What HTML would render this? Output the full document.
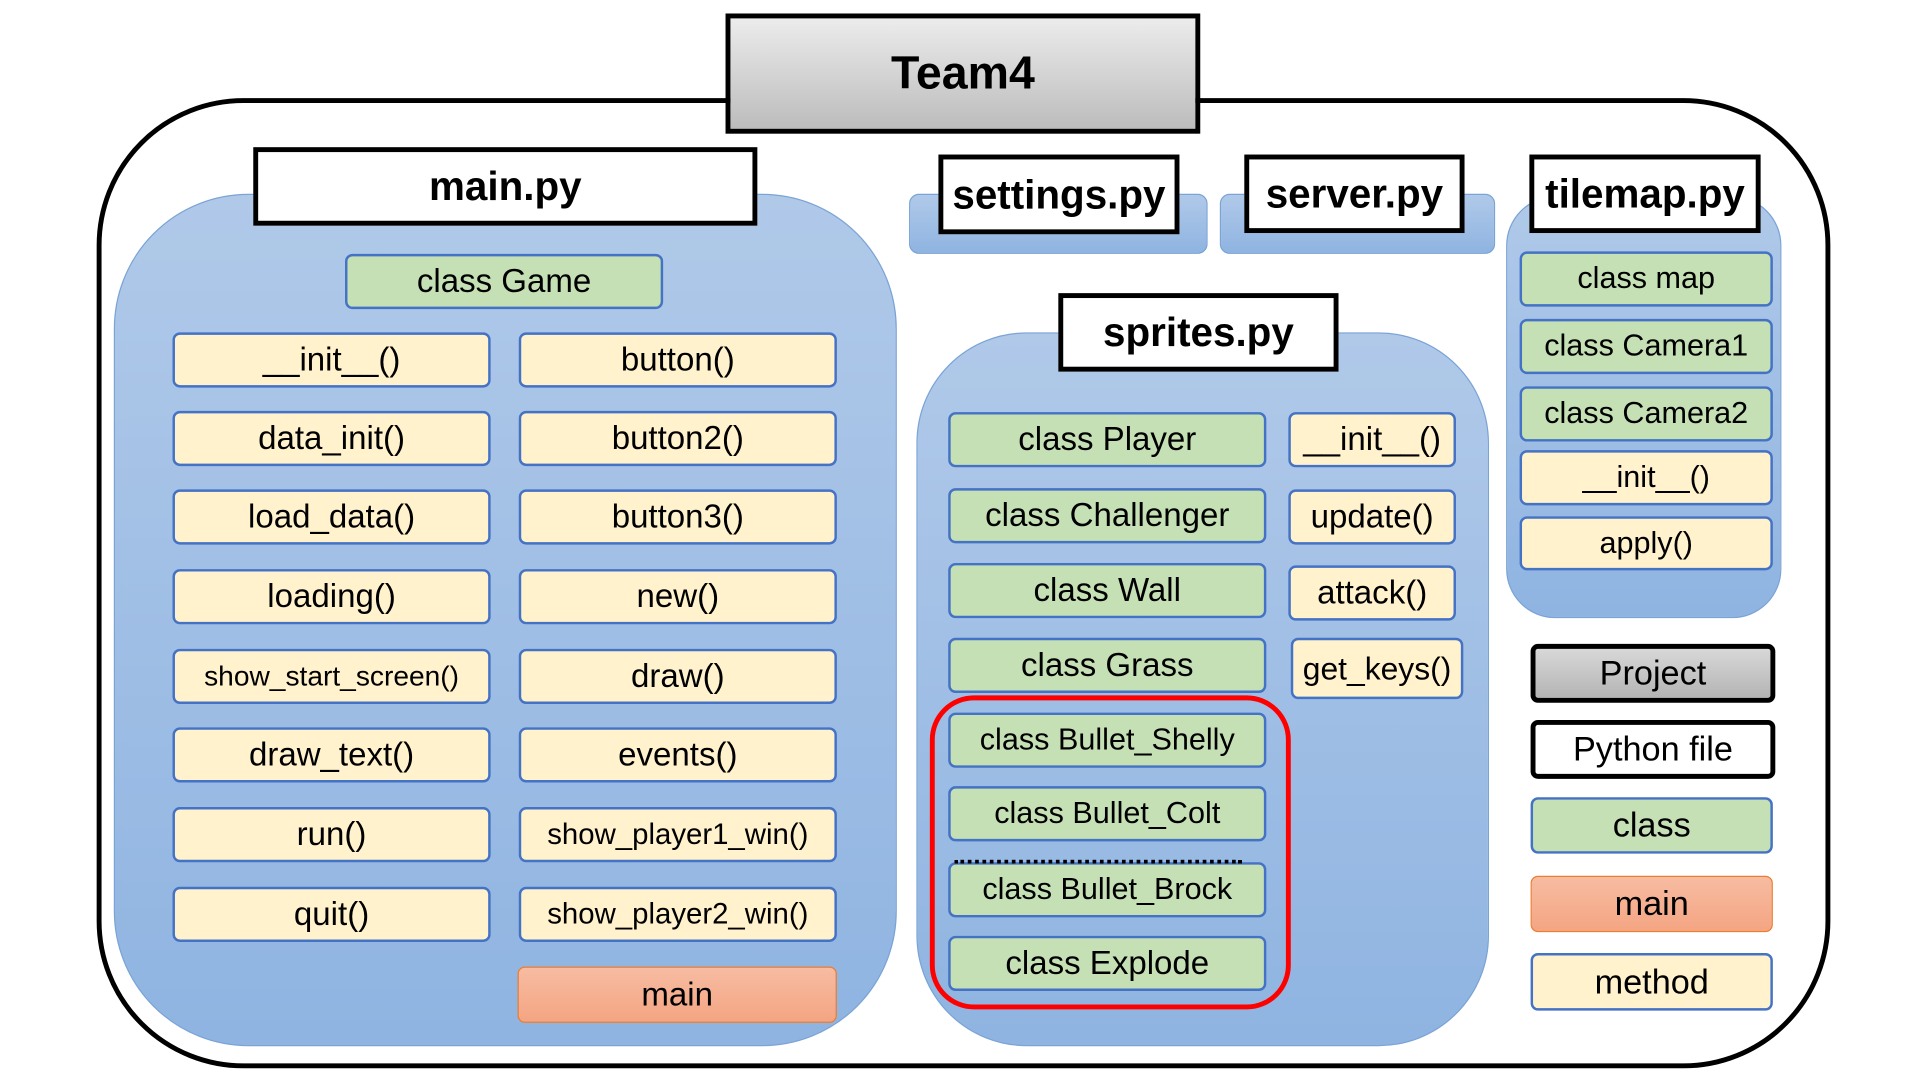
<!DOCTYPE html>
<html><head><meta charset="utf-8"><style>
html,body{margin:0;padding:0;width:1920px;height:1080px;overflow:hidden;background:#fff}
#s{position:absolute;left:0;top:0;width:1560px;height:878px;transform:scale(1.2235,1.2265);transform-origin:0 0;font-family:"Liberation Sans","DejaVu Sans",sans-serif}
.a{position:absolute;box-sizing:border-box;display:flex;align-items:center;justify-content:center;white-space:nowrap;color:#000}
.p{background:linear-gradient(#b0c9e9,#8fb4e1);border:1px solid #7aa3d6}
.l{background:#fff;border:4px solid #000;font-weight:bold;font-size:33px}
.m{background:#fff2cc;border:2px solid #4472c4;border-radius:6px;font-size:27px}
.c{background:#c5e0b4;border:2px solid #4472c4;border-radius:6px;font-size:27px}
.o{background:linear-gradient(#f7bca2,#f4a582);border:1.5px solid #ed7d31;border-radius:6px;font-size:27px}
</style></head><body><div id="s">
<div class="a" style="left:79px;top:80px;width:1417px;height:791px;border:4px solid #000;border-radius:120px"></div>
<div class="a" style="left:593px;top:11px;width:388px;height:98px;border:4px solid #000;background:linear-gradient(#ececec,#bcbcbc);font-weight:bold;font-size:38px">Team4</div>

<div class="a p" style="left:93px;top:158px;width:640px;height:695px;border-radius:110px"></div>
<div class="a l" style="left:207px;top:120px;width:412px;height:64px">main.py</div>
<div class="a c" style="left:282px;top:207px;width:260px;height:45px">class Game</div>
<div class="a m" style="left:141px;top:271px;width:260px;height:45px">__init__()</div>
<div class="a m" style="left:141px;top:335px;width:260px;height:45px">data_init()</div>
<div class="a m" style="left:141px;top:399px;width:260px;height:45px">load_data()</div>
<div class="a m" style="left:141px;top:464px;width:260px;height:45px">loading()</div>
<div class="a m" style="left:141px;top:529px;width:260px;height:45px;font-size:23px">show_start_screen()</div>
<div class="a m" style="left:141px;top:593px;width:260px;height:45px">draw_text()</div>
<div class="a m" style="left:141px;top:658px;width:260px;height:45px">run()</div>
<div class="a m" style="left:141px;top:723px;width:260px;height:45px">quit()</div>
<div class="a m" style="left:424px;top:271px;width:260px;height:45px">button()</div>
<div class="a m" style="left:424px;top:335px;width:260px;height:45px">button2()</div>
<div class="a m" style="left:424px;top:399px;width:260px;height:45px">button3()</div>
<div class="a m" style="left:424px;top:464px;width:260px;height:45px">new()</div>
<div class="a m" style="left:424px;top:529px;width:260px;height:45px">draw()</div>
<div class="a m" style="left:424px;top:593px;width:260px;height:45px">events()</div>
<div class="a m" style="left:424px;top:658px;width:260px;height:45px;font-size:24px">show_player1_win()</div>
<div class="a m" style="left:424px;top:723px;width:260px;height:45px;font-size:24px">show_player2_win()</div>
<div class="a o" style="left:423px;top:788px;width:261px;height:46px">main</div>

<div class="a p" style="left:743px;top:158px;width:244px;height:49px;border-radius:8px"></div>
<div class="a l" style="left:767px;top:126px;width:197px;height:65px">settings.py</div>
<div class="a p" style="left:997px;top:158px;width:225px;height:49px;border-radius:8px"></div>
<div class="a l" style="left:1017px;top:126px;width:180px;height:64px">server.py</div>

<div class="a p" style="left:1231px;top:160px;width:225px;height:344px;border-radius:40px"></div>
<div class="a l" style="left:1250px;top:126px;width:189px;height:64px">tilemap.py</div>
<div class="a c" style="left:1242px;top:205px;width:207px;height:45px;font-size:25px">class map</div>
<div class="a c" style="left:1242px;top:260px;width:207px;height:45px;font-size:25px">class Camera1</div>
<div class="a c" style="left:1242px;top:315px;width:207px;height:45px;font-size:25px">class Camera2</div>
<div class="a m" style="left:1242px;top:367px;width:207px;height:45px;font-size:25px">__init__()</div>
<div class="a m" style="left:1242px;top:421px;width:207px;height:44px;font-size:25px">apply()</div>

<div class="a p" style="left:749px;top:271px;width:468px;height:582px;border-radius:90px"></div>
<div class="a l" style="left:865px;top:239px;width:229px;height:64px">sprites.py</div>
<div class="a c" style="left:775px;top:336px;width:260px;height:45px">class Player</div>
<div class="a c" style="left:775px;top:398px;width:260px;height:45px">class Challenger</div>
<div class="a c" style="left:775px;top:459px;width:260px;height:45px">class Wall</div>
<div class="a c" style="left:775px;top:520px;width:260px;height:45px">class Grass</div>
<div class="a c" style="left:775px;top:581px;width:260px;height:45px;font-size:25px">class Bullet_Shelly</div>
<div class="a c" style="left:775px;top:641px;width:260px;height:45px;font-size:25px">class Bullet_Colt</div>
<div class="a c" style="left:775px;top:703px;width:260px;height:45px;font-size:25px">class Bullet_Brock</div>
<div class="a c" style="left:775px;top:763px;width:260px;height:45px">class Explode</div>
<div class="a" style="left:780px;top:701px;width:235px;height:0;border-top:3px dotted #000"></div>
<div class="a" style="left:760px;top:567px;width:295px;height:256px;border:4px solid #f00;border-radius:36px"></div>
<div class="a m" style="left:1053px;top:336px;width:137px;height:45px">__init__()</div>
<div class="a m" style="left:1053px;top:399px;width:137px;height:45px">update()</div>
<div class="a m" style="left:1053px;top:461px;width:137px;height:45px">attack()</div>
<div class="a m" style="left:1055px;top:520px;width:141px;height:50px;font-size:26px">get_keys()</div>

<div class="a" style="left:1251px;top:525px;width:200px;height:48px;border:4px solid #000;border-radius:6px;background:linear-gradient(#d8d8d8,#b4b4b4);font-size:28px">Project</div>
<div class="a" style="left:1251px;top:587px;width:200px;height:48px;border:4px solid #000;border-radius:6px;background:#fff;font-size:28px">Python file</div>
<div class="a c" style="left:1251px;top:650px;width:198px;height:46px;font-size:28px">class</div>
<div class="a o" style="left:1251px;top:714px;width:198px;height:46px;font-size:28px">main</div>
<div class="a m" style="left:1251px;top:777px;width:198px;height:47px;font-size:28px">method</div>
</div></body></html>
